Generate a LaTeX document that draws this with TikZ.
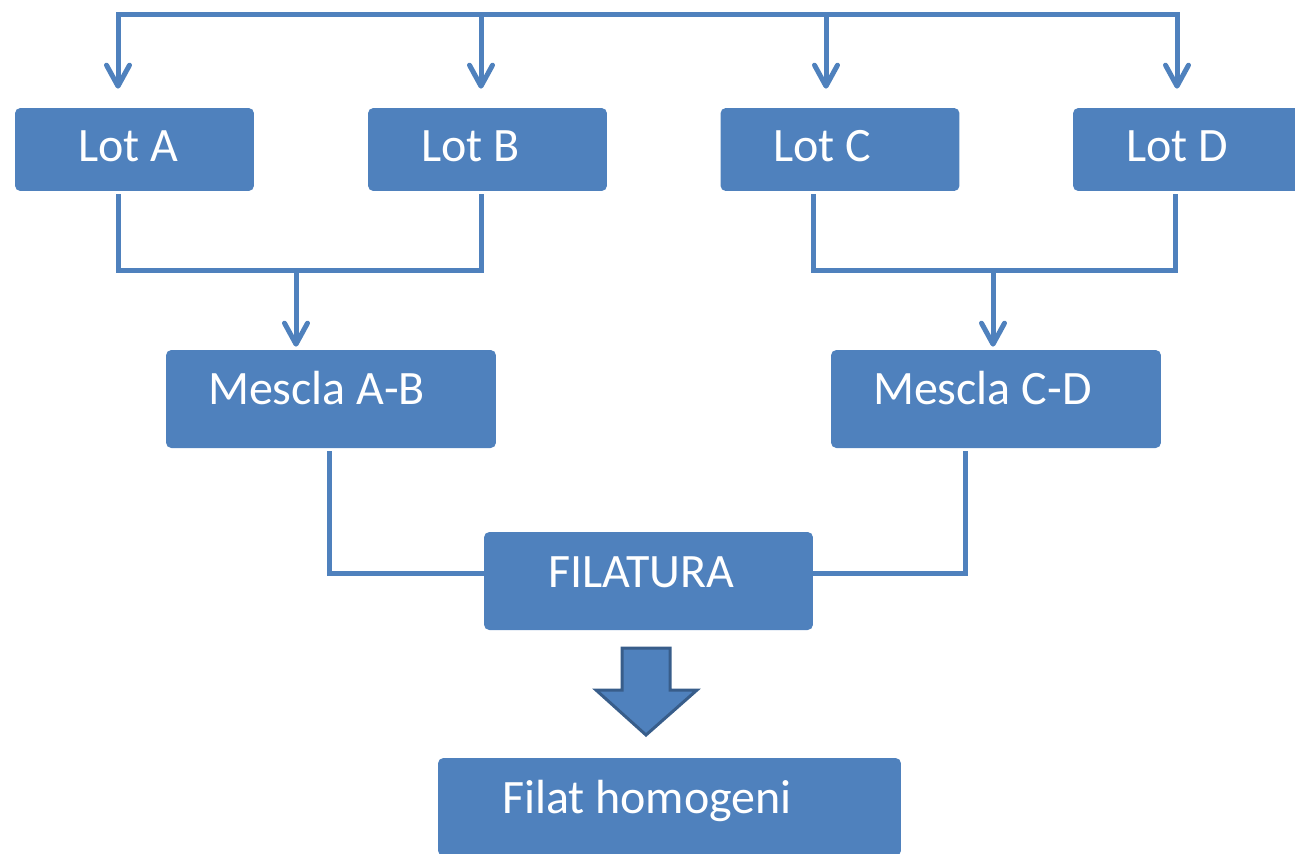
\documentclass[tikz,border=0pt]{standalone}
\usepackage{fontspec}
\setmainfont{Carlito}
\usetikzlibrary{arrows.meta}
\definecolor{boxblue}{HTML}{4F81BD}
\definecolor{edgeblue}{HTML}{385D8A}
\tikzset{
  box/.style={fill=boxblue, rounded corners=3pt, text=white, align=flush left,
    font=\fontsize{27.3}{32}\selectfont, inner ysep=0pt},
  lot/.style={box, text width=2.66cm, inner xsep=1.06cm,
    minimum height=1.66cm, text height=0.7cm, text depth=0.24cm},
  mescla/.style={box, text width=4.92cm, inner xsep=0.84cm,
    minimum height=1.96cm, text height=0.7cm, text depth=0.5cm},
  filbox/.style={box, text width=4.02cm, inner xsep=1.28cm,
    minimum height=1.96cm, text height=0.7cm, text depth=0.46cm},
  link/.style={draw=boxblue, line width=0.1cm},
  arr/.style={link, -{Straight Barb[length=0.42cm, width=0.46cm,
    line cap=round, line join=round]}},
}

\begin{document}
\begin{tikzpicture}[x=0.02cm, y=-0.02cm]
    \useasboundingbox (0,0) rectangle (1295,853);
    % lots
    \node[lot] (lotA) at (134.5,149.5) {\hspace*{0.2cm}Lot A};
    \node[lot] (lotB) at (487.5,149.5) {Lot B};
    \node[lot] (lotC) at (840,149.5) {Lot C};
    \node[lot] (lotD) at (1192.5,149.5) {Lot D};
    % mixes
    \node[mescla] (mesAB) at (331,399) {Mescla A-B};
    \node[mescla] (mesCD) at (996,399) {Mescla C-D};
    \node[filbox] (fila) at (648.5,581) {FILATURA};
    \node[filbox, text width=6.7cm] (homog) at (669.5,807) {Filat homogeni};
    % feed line on top
    \coordinate (tA) at (118,14);
    \coordinate (tB) at (481,14);
    \coordinate (tC) at (826,14);
    \coordinate (tD) at (1177,14);
    \draw[arr, shorten >=0.38cm] (tB) -| (tA |- lotA.north);
    \draw[arr, shorten >=0.38cm] (tB) -| (tD |- lotD.north);
    \draw[arr, shorten >=0.38cm] (tB) -- (tB |- lotB.north);
    \draw[arr, shorten >=0.38cm] (tC) -- (tC |- lotC.north);
    % lots into mixes
    \coordinate (jAB) at (296,270);
    \coordinate (bC) at (813,270);
    \coordinate (jCD) at (993,270);
    \coordinate (bD) at (1175,270);
    \draw[link, shorten <=0.06cm, shorten >=0.06cm]
      (tA |- lotA.south) -- (tA |- jAB) -- (tB |- jAB) -- (tB |- lotB.south);
    \draw[link, shorten <=0.06cm, shorten >=0.06cm]
      (bC |- lotC.south) -- (bC) -- (bD) -- (bD |- lotD.south);
    \draw[arr, shorten >=0.06cm] (jAB) -- (jAB |- mesAB.north);
    \draw[arr, shorten >=0.06cm] (jCD) -- (jCD |- mesCD.north);
    % mixes into spinning
    \coordinate (fL) at (329,573);
    \coordinate (fR) at (965,573);
    \draw[link, shorten <=0.06cm] (fL |- mesAB.south) -- (fL) -- (fL -| fila.west);
    \draw[link, shorten <=0.06cm] (fR |- mesCD.south) -- (fR) -- (fR -| fila.east);
    % block arrow
    \draw[draw=edgeblue, fill=boxblue, line width=0.06cm]
      (622,648) -- (670,648) -- (670,690) -- (697,690) -- (646,735)
      -- (596,690) -- (622,690) -- cycle;
\end{tikzpicture}
\end{document}
